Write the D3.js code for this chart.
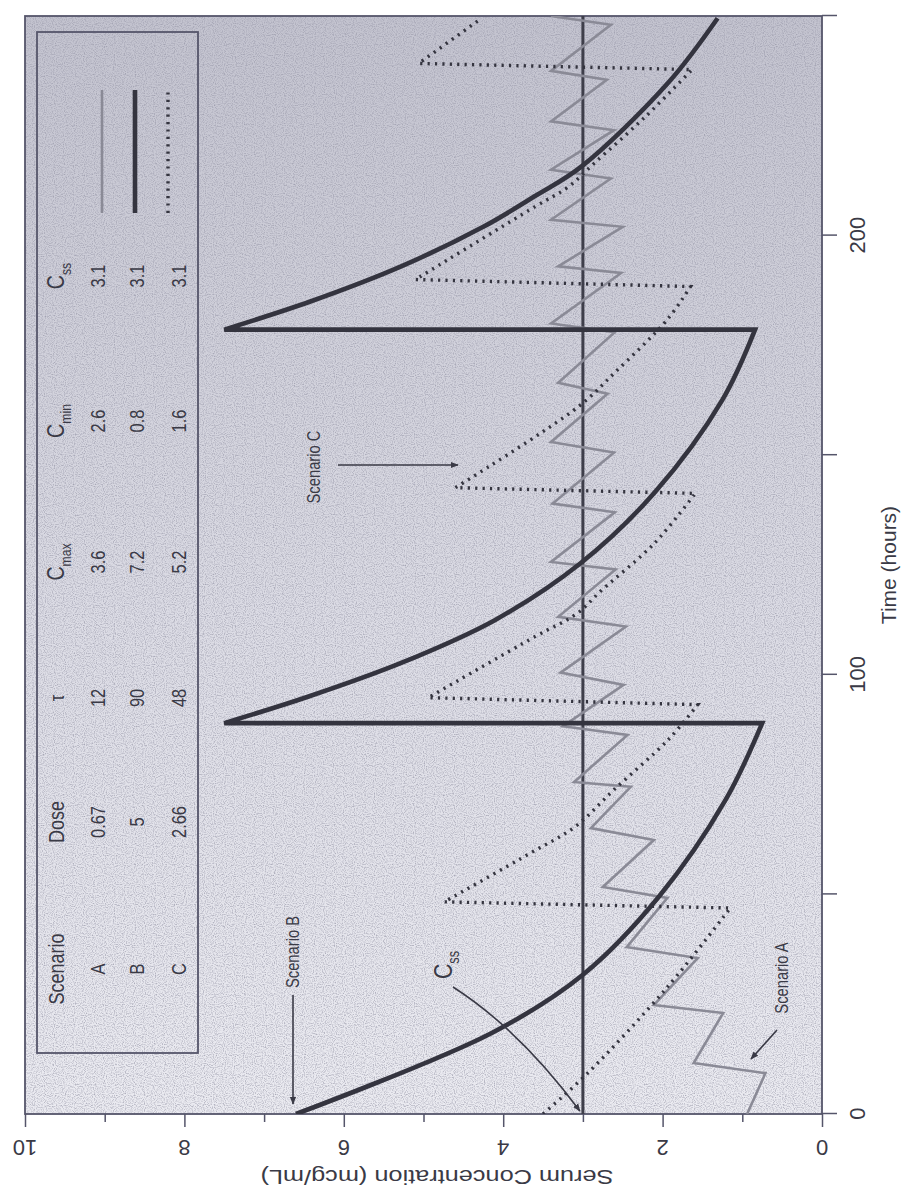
<!DOCTYPE html>
<html>
<head>
<meta charset="utf-8">
<script src="https://cdn.jsdelivr.net/npm/d3@7"></script>
<style>
  body { margin: 0; background: #fff; }
  svg text { font-family: "Liberation Sans Narrow", "Liberation Sans", Arial, sans-serif; fill: #3a3a46; }
</style>
</head>
<body>
<div id="chart"></div>
<script>
// values (time in hours, concentration in mcg/mL)
var scenarioNames = ["A", "B", "C"];
var doseValues = ["0.67", "5", "2.66"];
var tauValues = ["12", "90", "48"];
var cmaxValues = ["3.6", "7.2", "5.2"];
var cminValues = ["2.6", "0.8", "1.6"];
var cssValues = ["3.1", "3.1", "3.1"];
var cssLevel = 3.0;

var timeTicks = [0, 50, 100, 150, 200, 250];
var timeLabels = [0, 100, 200];
var concMajor = [0, 2, 4, 6, 8, 10];
var concMinor = [1, 3, 5, 7, 9];

// scenario A: every vertex of the saw-tooth
var seriesA = [[0, 0.94], [9.3, 0.71], [11.6, 1.61], [23.0, 1.24], [24.8, 2.11], [35.5, 1.56],
  [38.0, 2.45], [49.2, 1.94], [51.7, 2.75], [62.4, 2.11], [65.1, 2.9], [74.5, 2.4], [75.6, 3.11],
  [86.3, 2.44], [88.3, 3.25], [97.7, 2.49], [100.5, 3.28], [111, 2.46], [113.2, 3.31], [124, 2.59],
  [125.7, 3.4], [137, 2.6], [139, 3.38], [150.6, 2.61], [153, 3.4], [164, 2.69], [166.5, 3.31],
  [178, 2.6], [180, 3.4], [191.5, 2.52], [193, 3.31], [202, 2.5], [203.6, 3.4], [213, 2.65],
  [215, 3.4], [224, 2.61], [226, 3.4], [235.5, 2.7], [237.5, 3.4], [248, 2.65], [250, 3.4]];

// scenario B: one decay arc per dose
var arcsB = [
  [[0, 6.6], [18.4, 4.15], [31.7, 3.0], [49.4, 2.05], [71.5, 1.21], [89, 0.75]],
  [[89, 7.5], [95, 6.45], [102.7, 5.28], [112.5, 4.1], [125.4, 3.03], [141.5, 2.1], [162.6, 1.25], [178.6, 0.84]],
  [[178.6, 7.5], [185, 6.42], [193, 5.28], [202, 4.25], [209, 3.6], [215.7, 3.02], [234.8, 1.93], [249.5, 1.31]]
];

// scenario C: one decay arc per dose
var arcsC = [
  [[0, 3.5], [9.3, 2.94], [28.9, 1.94], [46.9, 1.15]],
  [[48.3, 4.74], [59.5, 3.65], [65.4, 3.1], [74, 2.6], [85.2, 1.93], [93.2, 1.56]],
  [[94.8, 4.94], [108.7, 3.6], [114, 3.07], [119, 2.78], [130, 2.1], [141.3, 1.59]],
  [[142.6, 4.6], [161, 3.06], [168.8, 2.6], [180.9, 1.94], [188.4, 1.65]],
  [[190, 5.1], [206.6, 3.6], [211, 3.19], [216.6, 2.85], [227, 2.22], [237.8, 1.63]],
  [[239.2, 5.06], [249.5, 4.27]]
];

// the scan is the chart turned a quarter turn: draw it upright, then rotate
var svg = d3.select("#chart").append("svg")
  .attr("width", 901).attr("height", 1200);

var defs = svg.append("defs");
var grad = defs.append("linearGradient").attr("id", "paper")
  .attr("gradientUnits", "userSpaceOnUse")
  .attr("x1", 86).attr("y1", 0).attr("x2", 1184).attr("y2", 0);
grad.append("stop").attr("offset", "0%").attr("stop-color", "#ebebf1");
grad.append("stop").attr("offset", "45%").attr("stop-color", "#dcdce5");
grad.append("stop").attr("offset", "100%").attr("stop-color", "#c3c3cf");

var noise = defs.append("filter").attr("id", "grain").attr("x", 0).attr("y", 0).attr("width", 1).attr("height", 1);
noise.append("feTurbulence").attr("type", "fractalNoise").attr("baseFrequency", 0.9).attr("numOctaves", 1).attr("seed", 4);
noise.append("feColorMatrix").attr("values", "0 0 0 0 0.3  0 0 0 0 0.3  0 0 0 0 0.38  0 0 0 -2.4 1.35");

defs.append("marker").attr("id", "head")
  .attr("viewBox", "0 0 10 10").attr("refX", 9).attr("refY", 5)
  .attr("markerWidth", 5).attr("markerHeight", 5).attr("orient", "auto")
  .append("path").attr("d", "M0,1L10,5L0,9Z").attr("fill", "#3a3a46");

var g = svg.append("g").attr("transform", "translate(0,1200) rotate(-90)");

var x = d3.scaleLinear().domain([0, 250]).range([86, 1184]);
var y = d3.scaleLinear().domain([0, 10]).range([822, 25]);

defs.append("clipPath").attr("id", "plotclip")
  .append("rect").attr("x", x(0)).attr("y", y(10))
  .attr("width", x(250) - x(0)).attr("height", y(0) - y(10));

// plot area
g.append("rect").attr("x", x(0)).attr("y", y(10))
  .attr("width", x(250) - x(0)).attr("height", y(0) - y(10))
  .attr("fill", "url(#paper)");
g.append("rect").attr("x", x(0)).attr("y", y(10))
  .attr("width", x(250) - x(0)).attr("height", y(0) - y(10))
  .attr("filter", "url(#grain)").attr("opacity", 0.8);

// axes
var xAxis = g.append("g").attr("transform", "translate(0," + y(0) + ")")
  .call(d3.axisBottom(x).tickValues(timeTicks).tickSize(15).tickPadding(12)
    .tickFormat(function(d) { return timeLabels.indexOf(d) >= 0 ? d : ""; }));
xAxis.select(".domain").remove();
xAxis.selectAll("line").attr("stroke", "#55556a").attr("stroke-width", 1.5);
xAxis.selectAll("text").attr("font-size", 22).attr("fill", "#3a3a46")
  .attr("font-family", "'Liberation Sans', Arial, sans-serif");

var yAxis = g.append("g").attr("transform", "translate(" + x(0) + ",0)")
  .call(d3.axisLeft(y).tickValues(concMajor).tickSize(13).tickFormat(""));
yAxis.select(".domain").remove();
g.append("g").attr("transform", "translate(" + x(0) + ",0)")
  .call(d3.axisLeft(y).tickValues(concMinor).tickSize(8).tickFormat(""))
  .select(".domain").remove();
g.selectAll(".tick line").attr("stroke", "#55556a").attr("stroke-width", 1.5);

g.selectAll(".conc-label").data(concMajor).enter().append("text")
  .attr("class", "conc-label")
  .attr("transform", function(d) { return "translate(60," + y(d) + ") rotate(-90)"; })
  .attr("text-anchor", "middle")
  .attr("font-size", 22)
  .attr("font-family", "'Liberation Sans', Arial, sans-serif")
  .text(function(d) { return d; });

// frame
g.append("rect").attr("x", x(0)).attr("y", y(10))
  .attr("width", x(250) - x(0)).attr("height", y(0) - y(10))
  .attr("fill", "none").attr("stroke", "#55556a").attr("stroke-width", 1.8);

// axis titles
g.append("text").attr("x", x(125)).attr("y", 896)
  .attr("text-anchor", "middle").attr("font-size", 21)
  .attr("font-family", "'Liberation Sans', Arial, sans-serif")
  .text("Time (hours)");
g.append("text").attr("transform", "translate(30," + 437 + ") rotate(-90)")
  .attr("text-anchor", "middle").attr("font-size", 20)
  .attr("textLength", 353).attr("lengthAdjust", "spacingAndGlyphs")
  .attr("font-family", "'Liberation Sans', Arial, sans-serif")
  .text("Serum Concentration (mcg/mL)");

// curves
var plot = g.append("g").attr("clip-path", "url(#plotclip)");

function arcPath(arcs) {
  var line = d3.line().x(function(d) { return x(d[0]); }).y(function(d) { return y(d[1]); })
    .curve(d3.curveCatmullRom.alpha(0.5));
  return arcs.map(function(a, i) {
    var s = line(a);
    return i ? "L" + s.slice(1) : s;
  }).join("");
}

plot.append("line")
  .attr("x1", x(0)).attr("x2", x(250)).attr("y1", y(cssLevel)).attr("y2", y(cssLevel))
  .attr("stroke", "#3e3e4a").attr("stroke-width", 3);

plot.append("path")
  .attr("d", d3.line().x(function(d) { return x(d[0]); }).y(function(d) { return y(d[1]); })(seriesA))
  .attr("fill", "none").attr("stroke", "#8a8a96").attr("stroke-width", 2.6)
  .attr("stroke-linejoin", "miter");

plot.append("path").attr("d", arcPath(arcsC))
  .attr("fill", "none").attr("stroke", "#34343f").attr("stroke-width", 3.4)
  .attr("stroke-dasharray", "2.2,5.2");

plot.append("path").attr("d", arcPath(arcsB))
  .attr("fill", "none").attr("stroke", "#34343f").attr("stroke-width", 4.6)
  .attr("stroke-linejoin", "miter");

// legend table
g.append("rect").attr("x", 147).attr("y", 37).attr("width", 1021).attr("height", 161)
  .attr("fill", "none").attr("stroke", "#55556a").attr("stroke-width", 1.8);

function cell(txt, X, Y, size, sub) {
  var t = g.append("text").attr("transform", "translate(" + X + "," + Y + ") scale(0.82,1)")
    .attr("text-anchor", "middle").attr("font-size", size).text(txt);
  if (sub) t.append("tspan").attr("font-size", size * 0.62).attr("dy", size * 0.28).text(sub);
  return t;
}

var rowY = [105, 144, 186];
var colX = { name: 231, dose: 378, tau: 502, cmax: 638, cmin: 779, css: 924 };
cell("Scenario", colX.name, 64, 22);
cell("Dose", colX.dose, 64, 22);
cell("\u03C4", colX.tau, 64, 20);
cell("C", colX.cmax, 64, 24, "max");
cell("C", colX.cmin, 64, 24, "min");
cell("C", colX.css, 64, 24, "ss");
scenarioNames.forEach(function(s, i) {
  cell(s, colX.name, rowY[i], 20);
  cell(doseValues[i], colX.dose, rowY[i], 20);
  cell(tauValues[i], colX.tau, rowY[i], 20);
  cell(cmaxValues[i], colX.cmax, rowY[i], 20);
  cell(cminValues[i], colX.cmin, rowY[i], 20);
  cell(cssValues[i], colX.css, rowY[i], 20);
});
var sampleY = [102, 135, 168];
g.append("line").attr("x1", 987).attr("x2", 1110).attr("y1", sampleY[0]).attr("y2", sampleY[0])
  .attr("stroke", "#8a8a96").attr("stroke-width", 2.6);
g.append("line").attr("x1", 987).attr("x2", 1110).attr("y1", sampleY[1]).attr("y2", sampleY[1])
  .attr("stroke", "#34343f").attr("stroke-width", 4.6);
g.append("line").attr("x1", 987).attr("x2", 1110).attr("y1", sampleY[2]).attr("y2", sampleY[2])
  .attr("stroke", "#34343f").attr("stroke-width", 3.4).attr("stroke-dasharray", "2.2,5.2");

// annotations
function note(txt, X, Y, size, sub) {
  var t = g.append("text").attr("transform", "translate(" + X + "," + Y + ") scale(0.82,1)")
    .attr("text-anchor", "middle").attr("font-size", size).text(txt);
  if (sub) t.append("tspan").attr("font-size", size * 0.6).attr("dy", size * 0.25).text(sub);
}
function arrow(d) {
  g.append("path").attr("d", d).attr("fill", "none").attr("stroke", "#3a3a46")
    .attr("stroke-width", 1.6).attr("marker-end", "url(#head)");
}

note("Scenario B", 248, 299, 18);
arrow("M205,293L" + (x(0) + 10) + ",293");

note("Scenario C", 733, 320, 18);
arrow("M735,338L735,458");

note("Scenario A", 222, 788, 18);
arrow("M170,777L141,751");

note("C", 235, 452, 26, "ss");
arrow("M213,453Q170,520 " + (x(0) + 3) + "," + (y(cssLevel) - 3));
</script>
</body>
</html>
